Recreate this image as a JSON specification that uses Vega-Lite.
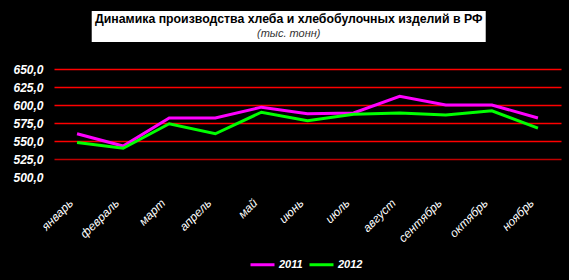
{
  "$schema": "https://vega.github.io/schema/vega-lite/v6.json",
  "background": "black",
  "padding": {"left": 12, "top": 11, "right": 8, "bottom": 12},
  "spacing": 21,
  "center": true,
  "datasets": {
    "titles": [
      {"line": "a", "text": "Динамика производства хлеба и хлебобулочных изделий в РФ"},
      {"line": "b", "text": "(тыс. тонн)"}
    ],
    "prod": [
      {"month": "январь", "year": "2011", "value": 560},
      {"month": "февраль", "year": "2011", "value": 543},
      {"month": "март", "year": "2011", "value": 582},
      {"month": "апрель", "year": "2011", "value": 582},
      {"month": "май", "year": "2011", "value": 597},
      {"month": "июнь", "year": "2011", "value": 588},
      {"month": "июль", "year": "2011", "value": 589},
      {"month": "август", "year": "2011", "value": 612},
      {"month": "сентябрь", "year": "2011", "value": 600},
      {"month": "октябрь", "year": "2011", "value": 600},
      {"month": "ноябрь", "year": "2011", "value": 582},
      {"month": "январь", "year": "2012", "value": 548},
      {"month": "февраль", "year": "2012", "value": 540},
      {"month": "март", "year": "2012", "value": 574},
      {"month": "апрель", "year": "2012", "value": 560},
      {"month": "май", "year": "2012", "value": 590},
      {"month": "июнь", "year": "2012", "value": 578},
      {"month": "июль", "year": "2012", "value": 587},
      {"month": "август", "year": "2012", "value": 589},
      {"month": "сентябрь", "year": "2012", "value": 586},
      {"month": "октябрь", "year": "2012", "value": 592},
      {"month": "ноябрь", "year": "2012", "value": 568}
    ]
  },
  "vconcat": [
    {
      "width": 394,
      "height": 31,
      "view": {"fill": "white", "stroke": null},
      "data": {"name": "titles"},
      "encoding": {
        "y": {
          "field": "line",
          "type": "nominal",
          "scale": {"type": "point", "domain": ["a", "b"], "padding": 0.5},
          "axis": {"orient": "right", "title": null, "labelColor": "black", "labelFontSize": 10, "ticks": false, "domain": false, "grid": false, "labelPadding": 32}
        },
        "text": {"field": "text"}
      },
      "layer": [
        {
          "transform": [{"filter": "datum.line === 'a'"}],
          "mark": {"type": "text", "font": "Liberation Sans", "fontWeight": "bold", "fontSize": 12.3, "color": "black", "baseline": "middle"}
        },
        {
          "transform": [{"filter": "datum.line === 'b'"}],
          "mark": {"type": "text", "font": "Liberation Sans", "fontStyle": "italic", "fontSize": 11, "color": "#333333", "baseline": "middle"}
        }
      ]
    },
    {
      "width": 507,
      "height": 108,
      "view": {"stroke": null},
      "data": {"name": "prod"},
      "mark": {"type": "line", "strokeWidth": 3},
      "encoding": {
        "x": {
          "field": "month",
          "type": "nominal",
          "sort": null,
          "scale": {"type": "point", "padding": 0.5},
          "axis": {
            "title": null,
            "labelAngle": -45,
            "labelColor": "white",
            "labelFont": "Liberation Sans",
            "labelFontStyle": "italic",
            "labelFontSize": 12,
            "labelPadding": 20,
            "labelOffset": -10,
            "ticks": false,
            "domain": false,
            "grid": false
          }
        },
        "y": {
          "field": "value",
          "type": "quantitative",
          "scale": {"domain": [500, 650], "zero": false},
          "axis": {
            "title": null,
            "values": [500, 525, 550, 575, 600, 625, 650],
            "labelExpr": "replace(format(datum.value, '.1f'), '.', ',')",
            "labelColor": "white",
            "labelFont": "Liberation Sans",
            "labelFontWeight": "bold",
            "labelFontStyle": "italic",
            "labelFontSize": 12,
            "labelPadding": 11,
            "ticks": false,
            "domain": false,
            "grid": true,
            "gridColor": {"condition": {"test": "datum.value === 525", "value": "#c00000"}, "value": "#ff0000"},
            "gridWidth": 1.5,
            "gridOpacity": {"condition": {"test": "datum.value === 500", "value": 0}, "value": 1}
          }
        },
        "color": {
          "field": "year",
          "type": "nominal",
          "scale": {"domain": ["2011", "2012"], "range": ["#ff00ff", "#00ff00"]},
          "legend": {
            "title": null,
            "orient": "none",
            "legendX": 195,
            "legendY": 240,
            "direction": "horizontal",
            "symbolType": "stroke",
            "symbolStrokeWidth": 3,
            "symbolSize": 576,
            "columnPadding": 0,
            "labelOffset": 3,
            "labelColor": "white",
            "labelFont": "Liberation Sans",
            "labelFontWeight": "bold",
            "labelFontStyle": "italic",
            "labelFontSize": 11
          }
        }
      }
    }
  ]
}
